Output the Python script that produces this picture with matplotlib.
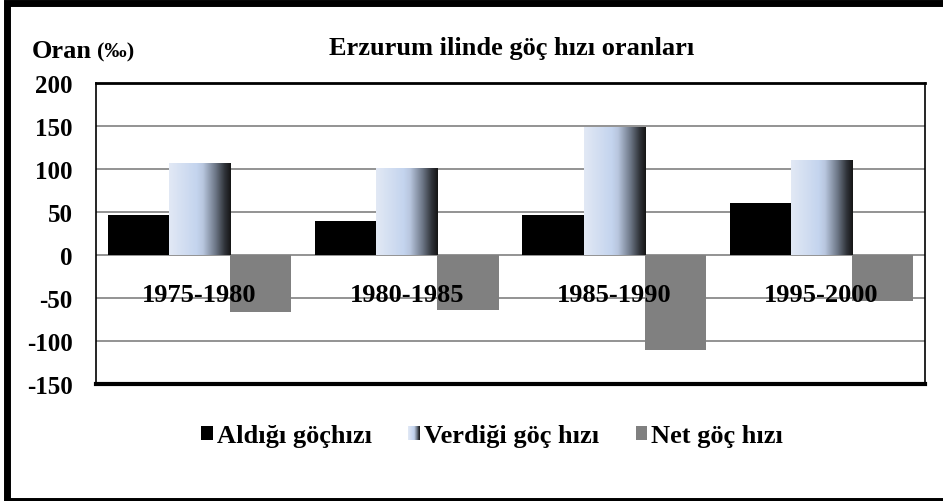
import matplotlib
matplotlib.use("Agg")
import matplotlib.pyplot as plt
import numpy as np
from matplotlib.colors import LinearSegmentedColormap
from matplotlib.patches import Rectangle, Patch
from matplotlib.legend_handler import HandlerBase

categories = ["1975-1980", "1980-1985", "1985-1990", "1995-2000"]
aldigi = [46, 40, 46, 60]
verdigi = [107, 101, 149, 111]
net = [-66, -64, -111, -53]
series_names = ["Aldığı göçhızı", "Verdiği göç hızı", "Net göç hızı"]
yticks = [-150, -100, -50, 0, 50, 100, 150, 200]

serif = ["Liberation Serif", "DejaVu Serif"]
plt.rcParams['font.family'] = serif
plt.rcParams['font.weight'] = 'bold'

fig = plt.figure(figsize=(9.43, 5.02), dpi=100)
W, H = 943, 502
ax = fig.add_axes([96 / W, 1 - 385 / H, (925 - 96) / W, (385 - 84) / H])

x = np.arange(len(categories))
bw = 0.295
ax.bar(x - bw, aldigi, bw, color="black", zorder=3)
vbars = ax.bar(x, verdigi, bw, color="none", zorder=3)
ax.bar(x + bw, net, bw, color="#808080", zorder=3)

cmap = LinearSegmentedColormap.from_list(
    "g", [(0, "#e2e9f5"), (0.45, "#c4d4ee"), (0.55, "#b8c6de"),
          (0.75, "#6e7888"), (0.9, "#30343a"), (1.0, "#151515")])
grad = np.linspace(0, 1, 256).reshape(1, -1)
for b in vbars:
    x0, y0 = b.get_x(), b.get_y()
    w, h = b.get_width(), b.get_height()
    im = ax.imshow(grad, cmap=cmap, aspect="auto",
                   extent=[x0, x0 + w, y0, y0 + h], zorder=3)
    im.set_clip_path(b)
ax.set_xlim(-0.5, len(categories) - 0.5)
ax.set_ylim(-150, 200)

ax.set_yticks(yticks)
ax.set_yticklabels([str(v) for v in yticks], fontsize=18, fontweight="bold")
ax.tick_params(axis="y", length=0, pad=17)
ax.set_xticks([])
ax.grid(axis="y", color="#808080", linewidth=1.2, zorder=0)
for s in ["left", "right"]:
    ax.spines[s].set_linewidth(1.2)
    ax.spines[s].set_color("black")
ax.spines["top"].set_linewidth(2)
ax.spines["bottom"].set_linewidth(3)

for i, c in enumerate(categories):
    ax.text(i, -46, c, ha="center", va="center", fontsize=19,
            fontweight="bold", zorder=4)

fig.text(512 / W, 1 - 49 / H, "Erzurum ilinde göç hızı oranları",
         ha="center", va="center", fontsize=19, fontweight="bold")
fig.text(32 / W, 1 - 51 / H, "Oran", ha="left", va="center",
         fontsize=19, fontweight="bold")
fig.text(97 / W, 1 - 52 / H, "(‰)", ha="left", va="center",
         fontsize=16, fontweight="bold")


class GradHandler(HandlerBase):
    def create_artists(self, legend, orig_handle, xdescent, ydescent,
                       width, height, fontsize, trans):
        n = 12
        arts = []
        for k in range(n):
            r = Rectangle((-xdescent + width * k / n, -ydescent), width / n + 0.3,
                          height, facecolor=cmap((k + 0.5) / n),
                          edgecolor="none", transform=trans)
            arts.append(r)
        return arts


handles = [Patch(facecolor="black"), Patch(facecolor="#c4d4ee"),
           Patch(facecolor="#808080")]
leg = fig.legend(handles, series_names, loc="center",
                 bbox_to_anchor=(492 / W, 1 - 437 / H), ncol=3, frameon=False,
                 prop={"size": 19, "weight": "bold"}, handlelength=0.42,
                 handleheight=0.42, handletextpad=0.15, columnspacing=1.4,
                 handler_map={handles[1]: GradHandler()})

# outer frame
fig.patches.append(Rectangle((7 / W, 0), 1.2, 1 - 4 / H, transform=fig.transFigure,
                             fill=False, edgecolor="black", linewidth=5))

fig.savefig("out.png", dpi=100)
